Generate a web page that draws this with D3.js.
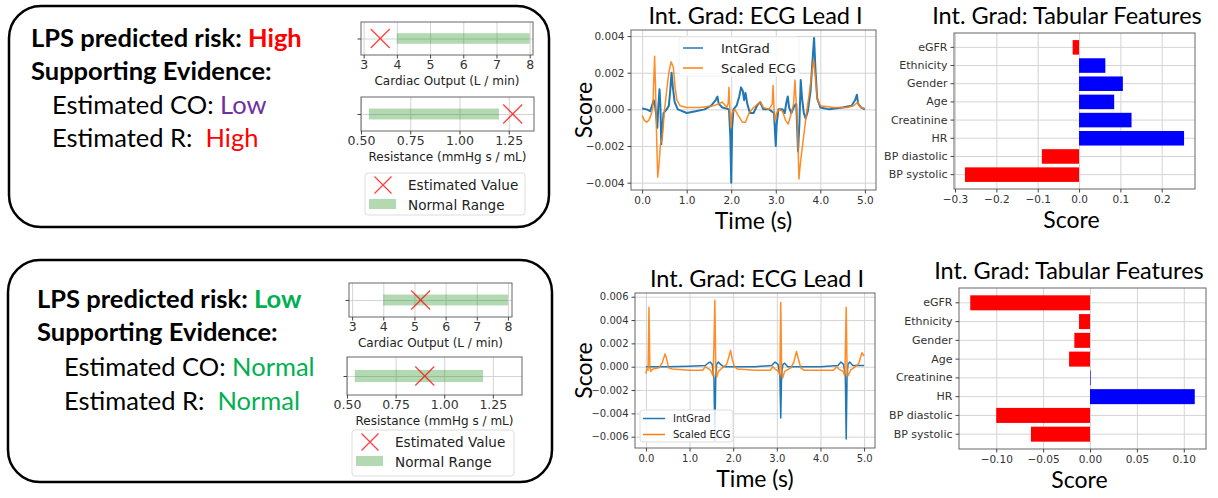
<!DOCTYPE html>
<html>
  <head>
    <meta charset="utf-8">
    <style>
      body { margin: 0; background: #fff; }
      text { font-family: 'DejaVu Sans', sans-serif; }
      .big { font-family: Lato, sans-serif; fill: #000; }
      .grid line { stroke: #d4d4d4; stroke-width: 1; }
      .grid path { display: none; }
      .axis path { display: none; }
      .axis line { stroke: #444; }
      .axis text { fill: #333; font-family: 'DejaVu Sans', sans-serif; }
    </style>
  </head>

  <body>

    <svg class="surface" width="1218" height="498"></svg>

    <script src="https://cdn.jsdelivr.net/npm/d3@7/dist/d3.min.js"></script>
    <script>

      // ---- data ----
      const features = ['eGFR', 'Ethnicity', 'Gender', 'Age', 'Creatinine', 'HR', 'BP diastolic', 'BP systolic']
      const tabScoreHigh = [-0.0155, 0.0636, 0.106, 0.085, 0.127, 0.254, -0.090, -0.276]
      const tabScoreLow = [-0.1277, -0.0117, -0.0167, -0.0223, 0.0003, 0.1117, -0.100, -0.063]
      const tabTicksHigh = [-0.3, -0.2, -0.1, 0.0, 0.1, 0.2]
      const tabTicksLow = [-0.10, -0.05, 0.00, 0.05, 0.10]

      const timeTicks = [0, 1, 2, 3, 4, 5]
      const ecgTicksHigh = [-0.004, -0.002, 0, 0.002, 0.004]
      const ecgTicksLow = [-0.006, -0.004, -0.002, 0, 0.002, 0.004, 0.006]

      // [time (s), score]
      const intGradHigh = [
        [0.00, 0.00005], [0.10, 0.0000], [0.18, -0.0001], [0.22, 0.0002], [0.26, 0.0005],
        [0.29, 0.0002], [0.31, -0.0002], [0.34, -0.0010], [0.36, 0.0000], [0.39, 0.0011],
        [0.41, 0.0002], [0.43, -0.0019], [0.45, -0.0012], [0.48, -0.0002], [0.55, 0.0000],
        [0.60, 0.0002], [0.63, 0.0010], [0.66, 0.0020], [0.69, 0.0012], [0.73, 0.0004],
        [0.80, 0.0000], [0.90, -0.0001], [1.00, -0.0002], [1.20, -0.0001], [1.40, 0.0000],
        [1.55, 0.0002], [1.65, 0.0005], [1.69, 0.0007], [1.72, 0.0003], [1.80, 0.0001],
        [1.95, 0.0000], [1.98, -0.0015], [2.00, -0.0040], [2.02, -0.0010], [2.05, 0.0000],
        [2.12, 0.0002], [2.18, 0.0007], [2.22, 0.0012], [2.26, 0.0010], [2.29, 0.0005],
        [2.32, 0.0009], [2.36, 0.0003], [2.42, -0.0002], [2.50, -0.0002], [2.58, 0.0002],
        [2.65, 0.0004], [2.72, 0.0000], [2.85, 0.0000], [2.96, -0.0002], [3.00, -0.0020],
        [3.02, -0.0008], [3.06, 0.0000], [3.15, 0.0000], [3.20, -0.0002], [3.24, 0.0004],
        [3.27, 0.0007], [3.30, 0.0001], [3.35, -0.0002], [3.42, 0.0002], [3.46, 0.0003],
        [3.50, -0.0023], [3.53, -0.0008], [3.56, 0.0016], [3.59, 0.0006], [3.63, -0.0002],
        [3.67, -0.0005], [3.72, -0.0001], [3.78, 0.0010], [3.82, 0.0025], [3.86, 0.0039],
        [3.89, 0.0022], [3.93, 0.0006], [4.00, 0.0001], [4.20, 0.0000], [4.50, 0.0001],
        [4.70, 0.0002], [4.78, 0.0005], [4.82, 0.0008], [4.85, 0.0003], [4.92, 0.0001],
        [5.00, 0.0000]
      ]
      const scaledEcgHigh = [
        [0.00, -0.00033], [0.05, -0.0006], [0.10, -0.0007], [0.15, -0.0006], [0.20, -0.0003],
        [0.24, 0.0001], [0.26, 0.0015], [0.28, 0.0029], [0.30, 0.0012], [0.32, -0.0010],
        [0.35, -0.0037], [0.38, -0.0030], [0.41, -0.0019], [0.45, -0.0016], [0.50, -0.0001],
        [0.55, 0.0010], [0.60, 0.0020], [0.65, 0.0026], [0.70, 0.0023], [0.74, 0.0012],
        [0.78, 0.0005], [0.85, 0.0002], [1.00, 0.0001], [1.30, 0.0001], [1.60, 0.0002],
        [1.72, 0.0003], [1.80, 0.0004], [1.90, 0.0001], [1.93, 0.0003], [1.95, 0.0012],
        [1.97, 0.0000], [1.99, -0.0010], [2.02, -0.0002], [2.08, 0.0000], [2.15, -0.0003],
        [2.25, -0.0007], [2.32, -0.0007], [2.40, -0.0002], [2.50, 0.0001], [2.60, 0.0003],
        [2.66, 0.0004], [2.72, 0.0001], [2.85, 0.0000], [2.92, 0.0003], [2.94, 0.0013],
        [2.96, 0.0000], [2.98, -0.0006], [3.02, -0.0002], [3.08, 0.0000], [3.15, -0.0001],
        [3.22, -0.0006], [3.28, -0.0008], [3.35, -0.0002], [3.40, 0.0003], [3.43, 0.0016],
        [3.46, 0.0003], [3.49, -0.0010], [3.52, -0.0038], [3.55, -0.0030], [3.60, -0.0020],
        [3.65, -0.0010], [3.70, 0.0000], [3.75, 0.0008], [3.80, 0.0018], [3.85, 0.0027],
        [3.88, 0.0020], [3.93, 0.0006], [4.00, 0.0002], [4.30, 0.0001], [4.60, 0.0001],
        [4.75, 0.0002], [4.84, 0.0004], [4.90, 0.0001], [5.00, 0.00005]
      ]
      const intGradLow = [
        [0.00, 0.0000], [0.50, 0.0000], [1.00, 0.00005], [1.36, 0.0001], [1.42, 0.0003],
        [1.47, 0.0004], [1.52, 0.0002], [1.56, -0.0010], [1.58, -0.0064], [1.60, -0.0010],
        [1.62, 0.0002], [1.66, 0.0004], [1.71, 0.0002], [1.78, 0.0000], [2.50, 0.0000],
        [2.88, 0.0001], [2.96, 0.0004], [3.03, 0.0002], [3.07, -0.0008], [3.09, -0.0044],
        [3.11, -0.0006], [3.14, 0.0002], [3.18, 0.0003], [3.25, 0.0000], [4.00, 0.0000],
        [4.40, 0.0001], [4.47, 0.0004], [4.53, 0.0002], [4.57, -0.0008], [4.59, -0.0062],
        [4.61, -0.0008], [4.63, 0.0002], [4.67, 0.0004], [4.74, 0.0001], [5.00, 0.0001]
      ]
      const scaledEcgLow = [
        [0.00, -0.0006], [0.02, -0.0002], [0.05, -0.0003], [0.07, 0.0051], [0.09, 0.0001],
        [0.11, -0.0004], [0.16, -0.0002], [0.30, -0.0001], [0.37, 0.0003], [0.44, 0.0011],
        [0.48, 0.0006], [0.52, -0.0001], [0.60, -0.0002], [1.00, -0.0003], [1.30, -0.0003],
        [1.36, 0.0000], [1.40, -0.0001], [1.48, -0.0003], [1.54, -0.0008], [1.56, 0.0020],
        [1.58, 0.0057], [1.60, 0.0000], [1.62, -0.0009], [1.66, -0.0004], [1.75, -0.0001],
        [1.85, 0.0002], [1.89, 0.0007], [1.94, 0.0014], [1.98, 0.0006], [2.03, 0.0000],
        [2.10, -0.0002], [2.50, -0.0003], [2.85, -0.0003], [2.91, 0.0000], [2.96, -0.0002],
        [3.04, -0.0004], [3.07, -0.0007], [3.09, 0.0055], [3.11, -0.0002], [3.13, -0.0010],
        [3.18, -0.0004], [3.32, -0.0001], [3.39, 0.0004], [3.45, 0.0013], [3.50, 0.0006],
        [3.55, -0.0001], [3.62, -0.0003], [4.30, -0.0003], [4.37, 0.0000], [4.42, -0.0002],
        [4.52, -0.0004], [4.56, -0.0008], [4.59, 0.0051], [4.61, -0.0002], [4.63, -0.0008],
        [4.69, -0.0003], [4.80, 0.0000], [4.88, 0.0003], [4.95, 0.0012], [5.00, 0.0009]
      ]

      const coTicks = [3, 4, 5, 6, 7, 8]
      const rTicks = [0.50, 0.75, 1.00, 1.25]
      const coNormal = [4, 8]
      const rNormal = [0.54, 1.20]
      const coEstimate = { high: 3.5, low: 5.2 }
      const rEstimate = { high: 1.27, low: 0.90 }

      const surface = d3.select('.surface')

      // ---- left summary panels ----
      function panel(o) {
        const g = surface.append('g')
        g.append('rect')
          .attr('x', o.box[0]).attr('y', o.box[1])
          .attr('width', o.box[2]).attr('height', o.box[3])
          .attr('rx', 32).attr('ry', 32)
          .attr('fill', 'none').attr('stroke', '#000').attr('stroke-width', 2.5)

        o.lines.forEach((ln, i) => {
          const t = g.append('text').attr('class', 'big')
            .attr('x', ln.x).attr('y', o.baselines[i])
            .attr('font-size', o.size)
            .attr('font-weight', ln.bold ? 700 : 400)
            .attr('xml:space', 'preserve')
          t.append('tspan').text(ln.text)
          if (ln.value) t.append('tspan').attr('fill', ln.color).text(ln.value)
        })
      }

      function rangeChart(o) {
        const g = surface.append('g')
        const x = d3.scaleLinear().domain(o.xlim).range([o.left, o.right])
        const y = d3.scaleLinear().domain([-0.5, 0.5]).range([o.bottom, o.top])
        const w = o.right - o.left, h = o.bottom - o.top

        g.append('g').attr('class', 'grid').attr('transform', `translate(0,${o.bottom})`)
          .call(d3.axisBottom(x).tickValues(o.ticks).tickSize(-h).tickFormat(''))
        g.append('g').attr('class', 'grid').attr('transform', `translate(${o.left},0)`)
          .call(d3.axisLeft(y).tickValues([0]).tickSize(-w).tickFormat(''))

        g.append('rect')
          .attr('x', x(o.normal[0])).attr('width', x(o.normal[1]) - x(o.normal[0]))
          .attr('y', y(0.16)).attr('height', y(-0.16) - y(0.16))
          .attr('fill', '#008000').attr('fill-opacity', 0.3)

        g.append('path')
          .attr('d', d3.symbol(d3.symbolX, 237)())
          .attr('transform', `translate(${x(o.estimate)},${y(0)})`)
          .attr('fill', 'none').attr('stroke', 'red').attr('stroke-opacity', 0.75).attr('stroke-width', 1.3)

        g.append('rect')
          .attr('x', o.left).attr('y', o.top).attr('width', w).attr('height', h)
          .attr('fill', 'none').attr('stroke', '#666').attr('stroke-width', 1)

        g.append('g').attr('class', 'axis').attr('transform', `translate(0,${o.bottom})`)
          .call(d3.axisBottom(x).tickValues(o.ticks).tickSize(3.5).tickPadding(2).tickFormat(d3.format(o.fmt)))
          .selectAll('text').style('font-size', '12.5px')
        g.append('g').attr('class', 'axis').attr('transform', `translate(${o.left},0)`)
          .call(d3.axisLeft(y).tickValues([0]).tickSize(3.5).tickFormat(''))

        g.append('text')
          .attr('x', (o.left + o.right) / 2).attr('y', o.bottom + 30)
          .attr('text-anchor', 'middle').attr('font-size', 12).attr('fill', '#222')
          .text(o.label)
      }

      function rangeLegend(o) {
        const g = surface.append('g')
        g.append('rect')
          .attr('x', o.x).attr('y', o.y).attr('width', o.w).attr('height', o.h)
          .attr('rx', 3).attr('fill', '#fff').attr('stroke', '#ddd')
        g.append('path')
          .attr('d', d3.symbol(d3.symbolX, 190)())
          .attr('transform', `translate(${o.x + 18},${o.y + 12})`)
          .attr('fill', 'none').attr('stroke', 'red').attr('stroke-opacity', 0.75).attr('stroke-width', 1.3)
        g.append('rect')
          .attr('x', o.x + 4).attr('y', o.y + 26).attr('width', 27).attr('height', 10)
          .attr('fill', '#008000').attr('fill-opacity', 0.3)
        g.append('text').attr('x', o.x + 43).attr('y', o.y + 17)
          .attr('font-size', 13.6).attr('fill', '#222').text('Estimated Value')
        g.append('text').attr('x', o.x + 43).attr('y', o.y + 36.5)
          .attr('font-size', 13.6).attr('fill', '#222').text('Normal Range')
      }

      // ---- ECG attribution ----
      function ecgChart(o) {
        const g = surface.append('g')
        const x = d3.scaleLinear().domain([-0.25, 5.25]).range([o.left, o.right])
        const y = d3.scaleLinear().domain(o.ylim).range([o.bottom, o.top])
        const w = o.right - o.left, h = o.bottom - o.top

        g.append('g').attr('class', 'grid').attr('transform', `translate(0,${o.bottom})`)
          .call(d3.axisBottom(x).tickValues(timeTicks).tickSize(-h).tickFormat(''))
        g.append('g').attr('class', 'grid').attr('transform', `translate(${o.left},0)`)
          .call(d3.axisLeft(y).tickValues(o.yTicks).tickSize(-w).tickFormat(''))

        const line = d3.line().x(d => x(d[0])).y(d => y(d[1]))
        g.append('path').datum(o.intGrad).attr('d', line)
          .attr('fill', 'none').attr('stroke', '#1f77b4').attr('stroke-width', o.blueWidth)
          .attr('stroke-linejoin', 'round')
        g.append('path').datum(o.scaled).attr('d', line)
          .attr('fill', 'none').attr('stroke', '#ff7f0e').attr('stroke-width', 1.5)
          .attr('stroke-opacity', 0.9).attr('stroke-linejoin', 'round')

        g.append('rect')
          .attr('x', o.left).attr('y', o.top).attr('width', w).attr('height', h)
          .attr('fill', 'none').attr('stroke', '#666')

        g.append('g').attr('class', 'axis').attr('transform', `translate(0,${o.bottom})`)
          .call(d3.axisBottom(x).tickValues(timeTicks).tickSize(3.5).tickPadding(3).tickFormat(d3.format('.1f')))
          .selectAll('text').style('font-size', o.tickSize + 'px')
        g.append('g').attr('class', 'axis').attr('transform', `translate(${o.left},0)`)
          .call(d3.axisLeft(y).tickValues(o.yTicks).tickSize(3.5).tickPadding(3).tickFormat(d3.format('.3f')))
          .selectAll('text').style('font-size', o.tickSize + 'px')

        // legend
        const lg = o.legend
        g.append('rect')
          .attr('x', lg.x).attr('y', lg.y).attr('width', lg.w).attr('height', lg.h)
          .attr('rx', 3).attr('fill', '#fff').attr('fill-opacity', 0.85).attr('stroke', lg.stroke)
        ;[['IntGrad', '#1f77b4'], ['Scaled ECG', '#ff7f0e']].forEach((d, i) => {
          const cy = lg.y + lg.row0 + i * lg.step
          g.append('line').attr('x1', lg.x + lg.pad).attr('x2', lg.x + lg.pad + lg.len)
            .attr('y1', cy).attr('y2', cy).attr('stroke', d[1]).attr('stroke-width', 1.5)
          g.append('text').attr('x', lg.x + lg.pad + lg.len + lg.gap).attr('y', cy + lg.font * 0.36)
            .attr('font-size', lg.font).attr('fill', '#222').text(d[0])
        })

        g.append('text').attr('class', 'big')
          .attr('x', (o.left + o.right) / 2 + 2).attr('y', o.top - 6)
          .attr('text-anchor', 'middle').attr('font-size', 23.5).text('Int. Grad: ECG Lead I')
        g.append('text').attr('class', 'big')
          .attr('transform', `translate(${592},${(o.top + o.bottom) / 2}) rotate(-90)`)
          .attr('text-anchor', 'middle').attr('font-size', 23).text('Score')
        g.append('text').attr('class', 'big')
          .attr('x', (o.left + o.right) / 2).attr('y', o.bottom + 39)
          .attr('text-anchor', 'middle').attr('font-size', 23).text('Time (s)')
      }

      // ---- tabular attribution ----
      function barChart(o) {
        const g = surface.append('g')
        const x = d3.scaleLinear().domain(o.xlim).range([o.left, o.right])
        const y = d3.scaleBand().domain(features).range([o.top, o.bottom])
          .paddingInner(0.2).paddingOuter(0.39)
        const w = o.right - o.left, h = o.bottom - o.top

        g.append('g').attr('class', 'grid').attr('transform', `translate(0,${o.bottom})`)
          .call(d3.axisBottom(x).tickValues(o.ticks).tickSize(-h).tickFormat(''))
        g.append('g').attr('class', 'grid').attr('transform', `translate(${o.left},0)`)
          .call(d3.axisLeft(y).tickSize(-w).tickFormat(''))

        g.selectAll('.bar').data(features).join('rect')
          .attr('class', 'bar')
          .attr('x', (d, i) => x(Math.min(0, o.values[i])))
          .attr('width', (d, i) => Math.max(0.6, Math.abs(x(o.values[i]) - x(0))))
          .attr('y', d => y(d))
          .attr('height', y.bandwidth())
          .attr('fill', (d, i) => o.values[i] < 0 ? 'red' : 'blue')

        g.append('rect')
          .attr('x', o.left).attr('y', o.top).attr('width', w).attr('height', h)
          .attr('fill', 'none').attr('stroke', '#666')

        g.append('g').attr('class', 'axis').attr('transform', `translate(0,${o.bottom})`)
          .call(d3.axisBottom(x).tickValues(o.ticks).tickSize(3.5).tickPadding(3).tickFormat(d3.format(o.fmt)))
          .selectAll('text').style('font-size', '10.5px')
        g.append('g').attr('class', 'axis').attr('transform', `translate(${o.left},0)`)
          .call(d3.axisLeft(y).tickSize(3.5).tickPadding(3))
          .selectAll('text').style('font-size', '11px')

        g.append('text').attr('class', 'big')
          .attr('x', o.titleX).attr('y', o.top - 9)
          .attr('text-anchor', 'middle').attr('font-size', 23.5).text('Int. Grad: Tabular Features')
        g.append('text').attr('class', 'big')
          .attr('x', (o.left + o.right) / 2 - 3).attr('y', o.bottom + 39)
          .attr('text-anchor', 'middle').attr('font-size', 23).text('Score')
      }

      // ---- high risk row ----
      panel({
        box: [9, 6, 540, 221], size: 25.5, baselines: [47, 80, 114, 147],
        lines: [
          { x: 31, bold: true, text: 'LPS predicted risk: ', value: 'High', color: '#ff0000' },
          { x: 31, bold: true, text: 'Supporting Evidence:' },
          { x: 52, text: 'Estimated CO: ', value: 'Low', color: '#7030a0' },
          { x: 52, text: 'Estimated R:  ', value: 'High', color: '#ff0000' }
        ]
      })
      rangeChart({ left: 361, right: 533, top: 22, bottom: 55, xlim: [2.92, 8.1], ticks: coTicks, fmt: 'd',
        normal: coNormal, estimate: coEstimate.high, label: 'Cardiac Output (L / min)' })
      rangeChart({ left: 361, right: 534, top: 97, bottom: 131, xlim: [0.5, 1.378], ticks: rTicks, fmt: '.2f',
        normal: rNormal, estimate: rEstimate.high, label: 'Resistance (mmHg s / mL)' })
      rangeLegend({ x: 365, y: 173, w: 160, h: 42 })

      ecgChart({ left: 631, right: 876, top: 30, bottom: 190, ylim: [-0.0044, 0.00433], yTicks: ecgTicksHigh,
        intGrad: intGradHigh, scaled: scaledEcgHigh, blueWidth: 2, tickSize: 10.5,
        legend: { x: 679, y: 37, w: 120, h: 39, row0: 11, step: 20, pad: 4, len: 20, gap: 18, font: 13, stroke: '#f2f2f2' } })

      barChart({ left: 954, right: 1195, top: 33, bottom: 189, xlim: [-0.3025, 0.2805], ticks: tabTicksHigh,
        fmt: '.1f', values: tabScoreHigh, titleX: 1067 })

      // ---- low risk row ----
      panel({
        box: [8, 260, 544, 222], size: 25.5, baselines: [308, 341, 376, 410],
        lines: [
          { x: 37, bold: true, text: 'LPS predicted risk: ', value: 'Low', color: '#00b050' },
          { x: 37, bold: true, text: 'Supporting Evidence:' },
          { x: 64, text: 'Estimated CO: ', value: 'Normal', color: '#00b050' },
          { x: 64, text: 'Estimated R:  ', value: 'Normal', color: '#00b050' }
        ]
      })
      rangeChart({ left: 349, right: 512, top: 283, bottom: 317, xlim: [2.9, 8.13], ticks: coTicks, fmt: 'd',
        normal: coNormal, estimate: coEstimate.low, label: 'Cardiac Output (L / min)' })
      rangeChart({ left: 347, right: 522, top: 357, bottom: 395, xlim: [0.5, 1.4], ticks: rTicks, fmt: '.2f',
        normal: rNormal, estimate: rEstimate.low, label: 'Resistance (mmHg s / mL)' })
      rangeLegend({ x: 352, y: 430, w: 162, h: 46 })

      ecgChart({ left: 635, right: 875, top: 293, bottom: 448, ylim: [-0.00697, 0.00632], yTicks: ecgTicksLow,
        intGrad: intGradLow, scaled: scaledEcgLow, blueWidth: 1.5, tickSize: 10,
        legend: { x: 640, y: 410, w: 93, h: 32, row0: 8.5, step: 16, pad: 3, len: 22, gap: 8, font: 10, stroke: '#ddd' } })

      barChart({ left: 959, right: 1206, top: 288, bottom: 449, xlim: [-0.1397, 0.1237], ticks: tabTicksLow,
        fmt: '.2f', values: tabScoreLow, titleX: 1069 })

    </script>
  </body>

</html>
